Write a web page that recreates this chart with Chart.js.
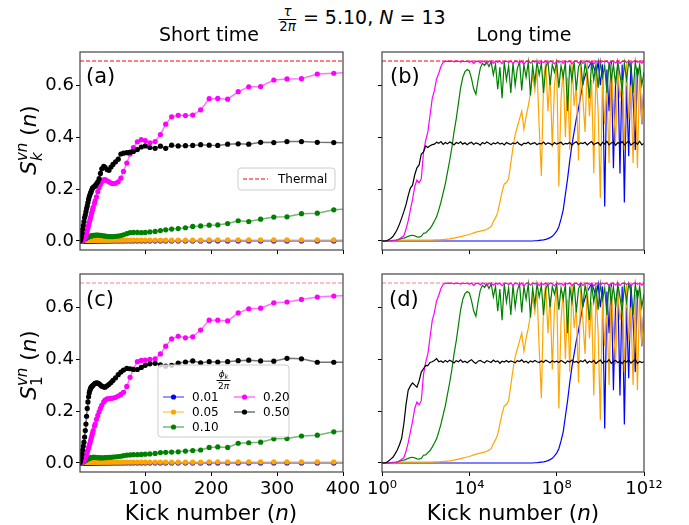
<!DOCTYPE html>
<html>
<head>
<meta charset="utf-8">
<script src="https://cdn.jsdelivr.net/npm/chart.js@4.4.1/dist/chart.umd.min.js"></script>
<style>
  body { margin: 0; background: #fff; }
  #fig { position: relative; width: 689px; height: 525px; overflow: hidden;
         font-family: "DejaVu Sans", sans-serif; color: #000; background: #fff; }
  #fig canvas { position: absolute; }
  .t { position: absolute; white-space: nowrap; line-height: 1; }
  .c { transform: translateX(-50%); }
  .ylab { transform: translate(-50%, -50%) rotate(-90deg); font-size: 21.5px; }
  .ss { display: inline-flex; flex-direction: column; font-size: 0.7em; line-height: 1; vertical-align: 0.6em; }
  .frac { display: inline-flex; flex-direction: column; align-items: center; font-size: 0.7em; line-height: 1.05; vertical-align: 0.6em; }
  .frac .den { border-top: 1px solid #000; padding: 0 1px; }
</style>
</head>
<body>
<div id="fig">
  <canvas id="chartA" width="331" height="214" style="left:20px; top:44px;"></canvas>
  <canvas id="chartB" width="292" height="214" style="left:362px; top:44px;"></canvas>
  <canvas id="chartC" width="343" height="238" style="left:20px; top:266px;"></canvas>
  <canvas id="chartD" width="308" height="238" style="left:362px; top:266px;"></canvas>

  <div class="t c" style="left:362px; top:5px; font-size:19px;"><span class="frac"><i>τ</i><span class="den">2<i>π</i></span></span> = 5.10, <i>N</i> = 13</div>
  <div class="t c" style="left:209px; top:25px; font-size:19px;">Short time</div>
  <div class="t c" style="left:524px; top:25px; font-size:19px;">Long time</div>

  <div class="t" style="left:86px; top:66px; font-size:21px;">(a)</div>
  <div class="t" style="left:390px; top:66px; font-size:21px;">(b)</div>
  <div class="t" style="left:86px; top:289px; font-size:21px;">(c)</div>
  <div class="t" style="left:389px; top:289px; font-size:21px;">(d)</div>

  <div class="t ylab" style="left:30px; top:140px;"><i>S</i><span class="ss"><i>vn</i><i>k</i></span> (<i>n</i>)</div>
  <div class="t ylab" style="left:30px; top:365px;"><i>S</i><span class="ss"><i>vn</i><span>1</span></span> (<i>n</i>)</div>

  <div class="t c" style="left:211px; top:502px; font-size:21.5px;">Kick number (<i>n</i>)</div>
  <div class="t c" style="left:513px; top:502px; font-size:21.5px;">Kick number (<i>n</i>)</div>
</div>

<script>
// ---------------- данные ----------------
const phiLabels = ["0.01", "0.05", "0.10", "0.20", "0.50"];
const phiColors = ["#0000ff", "#ffa500", "#008000", "#ff00ff", "#000000"];
const thermal = 0.6931;
const yTicks = [0.0, 0.2, 0.4, 0.6];
const shortTicks = [100, 200, 300, 400];
const longTicks = [1, 1e4, 1e8, 1e12];
const longTickLabels = ["10⁰", "10⁴", "10⁸", "10¹²"];

// short time: kick numbers of the marked points
const kicks = [
  1, 2, 3, 4, 5, 6, 7, 8, 9, 10,
  11, 12, 13, 14, 15, 16, 17, 18, 19, 20,
  21, 23, 24, 26, 28, 30, 32, 34, 37, 39,
  42, 45, 48, 51, 55, 59, 63, 67, 72, 77,
  82, 88, 94, 100, 107, 115, 123, 131, 140, 150,
  161, 172, 184, 197, 210, 225, 241, 257, 275, 295,
  315, 337, 361, 386, 413
];

const blueShort = [
  0, 0, 0, 0, 0, 0, 0, 0, 0, 0,
  0, 0, 0, 0, 0, 0, 0, 0, 0, 0,
  0, 0, 0, 0, 0, 0, 0, 0, 0, 0,
  0, 0, 0, 0, 0, 0, 0, 0, 0, 0,
  0, 0, 0, 0, 0, 0, 0, 0, 0, 0,
  0, 0, 0, 0, 0, 0, 0, 0, 0, 0,
  0, 0, 0, 0, 0
];
const orangeShort = [
  0, 0, 0.0005, 0.001, 0.0015, 0.002, 0.002, 0.0025, 0.003, 0.003,
  0.003, 0.003, 0.003, 0.003, 0.003, 0.003, 0.003, 0.003, 0.003, 0.003,
  0.003, 0.003, 0.003, 0.003, 0.003, 0.003, 0.003, 0.003, 0.003, 0.003,
  0.003, 0.003, 0.003, 0.003, 0.003, 0.003, 0.003, 0.003, 0.003, 0.003,
  0.003, 0.003, 0.003, 0.003, 0.003, 0.003, 0.003, 0.003, 0.003, 0.003,
  0.003, 0.003, 0.003, 0.004, 0.004, 0.004, 0.004, 0.004, 0.004, 0.004,
  0.004, 0.004, 0.004, 0.004, 0.004
];

// panel (a)
const greenA = [
  0, 0.0005, 0.001, 0.002, 0.003, 0.004, 0.006, 0.007, 0.009, 0.01,
  0.012, 0.013, 0.015, 0.016, 0.017, 0.018, 0.019, 0.02, 0.02, 0.021,
  0.022, 0.022, 0.022, 0.023, 0.023, 0.022, 0.022, 0.021, 0.02, 0.019,
  0.018, 0.017, 0.017, 0.017, 0.018, 0.019, 0.021, 0.024, 0.028, 0.032,
  0.033, 0.033, 0.032, 0.033, 0.035, 0.037, 0.04, 0.043, 0.046, 0.048,
  0.051, 0.056, 0.058, 0.061, 0.062, 0.067, 0.078, 0.075, 0.084, 0.092,
  0.093, 0.105, 0.107, 0.12, 0.124
];
const magentaA = [
  0, 0, 0.001, 0.002, 0.003, 0.005, 0.007, 0.01, 0.014, 0.02,
  0.03, 0.04, 0.05, 0.06, 0.07, 0.08, 0.09, 0.1, 0.11, 0.12,
  0.13, 0.145, 0.155, 0.17, 0.19, 0.205, 0.218, 0.228, 0.235, 0.236,
  0.232, 0.228, 0.223, 0.221, 0.222, 0.228, 0.242, 0.268, 0.3, 0.335,
  0.36, 0.382, 0.39, 0.387, 0.378, 0.383, 0.41, 0.45, 0.478, 0.484,
  0.483, 0.485, 0.505, 0.548, 0.549, 0.546, 0.575, 0.594, 0.595, 0.62,
  0.624, 0.625, 0.643, 0.646, 0.65
];
const blackA = [
  0, 0.005, 0.015, 0.03, 0.045, 0.06, 0.075, 0.09, 0.1, 0.113,
  0.125, 0.135, 0.148, 0.16, 0.17, 0.178, 0.185, 0.19, 0.198, 0.204,
  0.207, 0.21, 0.213, 0.22, 0.228, 0.24, 0.26, 0.278, 0.287, 0.284,
  0.275, 0.272, 0.285, 0.295, 0.305, 0.315, 0.335, 0.338, 0.34, 0.342,
  0.345, 0.352, 0.362, 0.366, 0.36, 0.357, 0.365, 0.357, 0.369, 0.366,
  0.367, 0.368, 0.371, 0.369, 0.368, 0.373, 0.374, 0.373, 0.38, 0.379,
  0.383, 0.383, 0.38, 0.379, 0.378
];

// panel (c)
const greenC = [
  0, 0, 0.001, 0.002, 0.003, 0.005, 0.006, 0.008, 0.01, 0.011,
  0.013, 0.014, 0.016, 0.017, 0.018, 0.019, 0.02, 0.021, 0.021, 0.022,
  0.022, 0.022, 0.022, 0.021, 0.021, 0.02, 0.02, 0.02, 0.02, 0.021,
  0.021, 0.022, 0.022, 0.023, 0.024, 0.025, 0.026, 0.028, 0.03, 0.031,
  0.032, 0.032, 0.033, 0.034, 0.035, 0.037, 0.04, 0.041, 0.042, 0.043,
  0.046, 0.048, 0.05, 0.06, 0.062, 0.06, 0.076, 0.078, 0.08, 0.093,
  0.094, 0.104, 0.107, 0.12, 0.125
];
const magentaC = [
  0, 0, 0.001, 0.002, 0.004, 0.007, 0.01, 0.014, 0.019, 0.025,
  0.033, 0.042, 0.05, 0.058, 0.066, 0.076, 0.086, 0.096, 0.105, 0.115,
  0.125, 0.142, 0.15, 0.168, 0.183, 0.197, 0.21, 0.222, 0.235, 0.242,
  0.247, 0.248, 0.249, 0.25, 0.253, 0.258, 0.264, 0.272, 0.295, 0.33,
  0.362, 0.39, 0.395, 0.396, 0.399, 0.401, 0.42, 0.45, 0.478, 0.488,
  0.482, 0.486, 0.512, 0.55, 0.55, 0.547, 0.578, 0.594, 0.596, 0.617,
  0.62, 0.63, 0.639, 0.643, 0.645
];
const blackC = [
  0, 0.01, 0.02, 0.035, 0.05, 0.065, 0.08, 0.1, 0.125, 0.15,
  0.18, 0.21, 0.235, 0.255, 0.27, 0.28, 0.287, 0.292, 0.295, 0.297,
  0.3, 0.305, 0.307, 0.309, 0.308, 0.305, 0.3, 0.296, 0.293, 0.292,
  0.297, 0.303, 0.31, 0.318, 0.328, 0.34, 0.35, 0.358, 0.364, 0.363,
  0.36, 0.36, 0.368, 0.376, 0.382, 0.384, 0.378, 0.373, 0.376, 0.385,
  0.389, 0.393, 0.386, 0.39, 0.389, 0.39, 0.394, 0.396, 0.393, 0.392,
  0.403, 0.401, 0.388, 0.388, 0.388
];

// long time: log10 of the kick number
const longExp = [
  0.0, 0.1, 0.2, 0.3, 0.4, 0.5, 0.6, 0.7, 0.8, 0.9,
  1.0, 1.1, 1.2, 1.3, 1.4, 1.5, 1.6, 1.7, 1.8, 1.9,
  2.0, 2.1, 2.2, 2.3, 2.4, 2.5, 2.6, 2.7, 2.8, 2.9,
  3.0, 3.1, 3.2, 3.3, 3.4, 3.5, 3.6, 3.7, 3.8, 3.9,
  4.0, 4.1, 4.2, 4.3, 4.4, 4.5, 4.6, 4.7, 4.8, 4.9,
  5.0, 5.1, 5.2, 5.3, 5.4, 5.5, 5.6, 5.7, 5.8, 5.9,
  6.0, 6.1, 6.2, 6.3, 6.4, 6.5, 6.6, 6.7, 6.8, 6.9,
  7.0, 7.1, 7.2, 7.3, 7.4, 7.5, 7.6, 7.7, 7.8, 7.9,
  8.0, 8.1, 8.2, 8.3, 8.4, 8.5, 8.6, 8.7, 8.8, 8.9,
  9.0, 9.1, 9.2, 9.3, 9.4, 9.5, 9.6, 9.7, 9.8, 9.9,
  10.0, 10.1, 10.2, 10.3, 10.4, 10.5, 10.6, 10.7, 10.8, 10.9,
  11.0, 11.1, 11.2, 11.3, 11.4, 11.5, 11.6, 11.7, 11.8, 11.9,
  12.0
];

const blueLong = [
  0, 0, 0, 0, 0, 0, 0, 0, 0, 0,
  0, 0, 0, 0, 0, 0, 0, 0, 0, 0,
  0, 0, 0, 0, 0, 0, 0, 0, 0, 0,
  0, 0, 0, 0, 0, 0, 0, 0, 0, 0,
  0, 0, 0, 0, 0, 0, 0, 0, 0, 0,
  0, 0, 0, 0, 0, 0, 0, 0, 0, 0,
  0, 0, 0, 0, 0, 0, 0, 0, 0, 0,
  0.001, 0.001, 0.002, 0.003, 0.004, 0.006, 0.009, 0.013, 0.018, 0.027,
  0.038, 0.055, 0.085, 0.12, 0.18, 0.24, 0.31, 0.37, 0.42, 0.47,
  0.51, 0.56, 0.605, 0.635, 0.66, 0.675, 0.69, 0.67, 0.64, 0.69,
  0.6, 0.68, 0.133, 0.66, 0.5, 0.69, 0.28, 0.62, 0.67, 0.26,
  0.68, 0.148, 0.6, 0.326, 0.69, 0.55, 0.35, 0.66, 0.64, 0.45,
  0.6
];
const orangeLong = [
  0, 0, 0, 0, 0, 0.001, 0.001, 0.002, 0.002, 0.003,
  0.003, 0.003, 0.003, 0.003, 0.003, 0.003, 0.003, 0.003, 0.003, 0.003,
  0.003, 0.003, 0.003, 0.003, 0.004, 0.004, 0.004, 0.005, 0.005, 0.006,
  0.007, 0.008, 0.01, 0.011, 0.013, 0.015, 0.017, 0.019, 0.021, 0.023,
  0.025, 0.028, 0.031, 0.034, 0.036, 0.038, 0.04, 0.042, 0.045, 0.05,
  0.055, 0.075, 0.09, 0.11, 0.15, 0.19, 0.22, 0.225, 0.24, 0.3,
  0.36, 0.41, 0.44, 0.47, 0.5, 0.43, 0.48, 0.52, 0.57, 0.64,
  0.58, 0.66, 0.44, 0.25, 0.62, 0.69, 0.5, 0.64, 0.36, 0.6,
  0.68, 0.21, 0.55, 0.66, 0.4, 0.63, 0.35, 0.69, 0.52, 0.6,
  0.31, 0.67, 0.55, 0.42, 0.69, 0.48, 0.62, 0.26, 0.66, 0.5,
  0.165, 0.64, 0.45, 0.6, 0.3, 0.68, 0.52, 0.38, 0.66, 0.55,
  0.62, 0.35, 0.69, 0.47, 0.6, 0.3, 0.65, 0.28, 0.68, 0.45,
  0.6
];
const greenLong = [
  0, 0, 0, 0, 0.001, 0.002, 0.002, 0.004, 0.006, 0.01,
  0.011, 0.014, 0.018, 0.021, 0.022, 0.02, 0.016, 0.015, 0.018, 0.03,
  0.031, 0.04, 0.048, 0.061, 0.077, 0.093, 0.12, 0.15, 0.185, 0.22,
  0.265, 0.31, 0.36, 0.42, 0.47, 0.53, 0.59, 0.63, 0.652, 0.66,
  0.655, 0.625, 0.585, 0.565, 0.62, 0.665, 0.684, 0.676, 0.69, 0.672,
  0.69, 0.64, 0.68, 0.585, 0.67, 0.55, 0.69, 0.62, 0.675, 0.57,
  0.686, 0.6, 0.665, 0.69, 0.58, 0.68, 0.63, 0.69, 0.56, 0.675,
  0.61, 0.69, 0.64, 0.685, 0.57, 0.67, 0.69, 0.6, 0.68, 0.65,
  0.69, 0.59, 0.675, 0.63, 0.69, 0.5, 0.68, 0.62, 0.69, 0.58,
  0.67, 0.69, 0.6, 0.685, 0.64, 0.55, 0.69, 0.62, 0.68, 0.59,
  0.69, 0.63, 0.675, 0.57, 0.69, 0.62, 0.68, 0.6, 0.69, 0.64,
  0.58, 0.685, 0.62, 0.69, 0.66, 0.57, 0.69, 0.63, 0.68, 0.6,
  0.65
];
const magentaLong = [
  0, 0, 0, 0, 0.001, 0.001, 0.002, 0.004, 0.008, 0.014,
  0.02, 0.045, 0.078, 0.12, 0.16, 0.21, 0.235, 0.224, 0.24, 0.34,
  0.387, 0.42, 0.484, 0.548, 0.58, 0.624, 0.646, 0.672, 0.688, 0.692,
  0.693, 0.692, 0.693, 0.69, 0.693, 0.692, 0.689, 0.693, 0.691, 0.693,
  0.688, 0.693, 0.684, 0.692, 0.693, 0.686, 0.693, 0.69, 0.682, 0.693,
  0.691, 0.685, 0.693, 0.688, 0.693, 0.683, 0.692, 0.693, 0.687, 0.693,
  0.684, 0.693, 0.69, 0.686, 0.693, 0.681, 0.692, 0.693, 0.685, 0.693,
  0.689, 0.693, 0.683, 0.692, 0.687, 0.693, 0.685, 0.693, 0.69, 0.682,
  0.693, 0.688, 0.692, 0.684, 0.693, 0.689, 0.693, 0.683, 0.692, 0.693,
  0.686, 0.693, 0.684, 0.692, 0.693, 0.687, 0.693, 0.682, 0.691, 0.693,
  0.685, 0.693, 0.689, 0.693, 0.683, 0.692, 0.693, 0.686, 0.693, 0.684,
  0.692, 0.693, 0.687, 0.693, 0.682, 0.692, 0.693, 0.688, 0.693, 0.685,
  0.692
];
const blackLongB = [
  0, 0, 0.001, 0.005, 0.01, 0.017, 0.03, 0.045, 0.065, 0.088,
  0.113, 0.14, 0.175, 0.204, 0.215, 0.255, 0.282, 0.293, 0.335, 0.343,
  0.366, 0.36, 0.367, 0.371, 0.373, 0.38, 0.376, 0.383, 0.372, 0.379,
  0.374, 0.381, 0.377, 0.37, 0.379, 0.375, 0.382, 0.373, 0.378, 0.371,
  0.377, 0.38, 0.372, 0.378, 0.375, 0.369, 0.379, 0.374, 0.381, 0.376,
  0.371, 0.378, 0.374, 0.38, 0.373, 0.377, 0.37, 0.379, 0.375, 0.372,
  0.378, 0.374, 0.381, 0.373, 0.369, 0.377, 0.375, 0.38, 0.372, 0.376,
  0.379, 0.371, 0.376, 0.374, 0.381, 0.372, 0.378, 0.375, 0.37, 0.379,
  0.373, 0.377, 0.38, 0.371, 0.376, 0.374, 0.379, 0.369, 0.377, 0.382,
  0.372, 0.378, 0.375, 0.38, 0.37, 0.377, 0.383, 0.371, 0.376, 0.379,
  0.368, 0.38, 0.373, 0.384, 0.37, 0.377, 0.382, 0.369, 0.379, 0.374,
  0.383, 0.37, 0.378, 0.385, 0.369, 0.376, 0.381, 0.372, 0.384, 0.37,
  0.376
];
const blackLongD = [
  0, 0, 0.002, 0.008, 0.015, 0.022, 0.035, 0.05, 0.07, 0.095,
  0.15, 0.225, 0.28, 0.297, 0.308, 0.3, 0.292, 0.316, 0.35, 0.363,
  0.376, 0.375, 0.387, 0.39, 0.395, 0.402, 0.39, 0.393, 0.387, 0.395,
  0.389, 0.396, 0.391, 0.385, 0.394, 0.39, 0.397, 0.388, 0.392, 0.386,
  0.393, 0.398, 0.389, 0.383, 0.392, 0.395, 0.39, 0.386, 0.394, 0.391,
  0.387, 0.396, 0.39, 0.393, 0.384, 0.392, 0.389, 0.395, 0.388, 0.393,
  0.39, 0.386, 0.394, 0.391, 0.397, 0.388, 0.392, 0.385, 0.393, 0.389,
  0.395, 0.39, 0.387, 0.393, 0.388, 0.396, 0.391, 0.386, 0.394, 0.389,
  0.392, 0.387, 0.395, 0.39, 0.384, 0.393, 0.389, 0.396, 0.388, 0.391,
  0.386, 0.394, 0.39, 0.397, 0.385, 0.392, 0.388, 0.395, 0.383, 0.391,
  0.396, 0.385, 0.392, 0.389, 0.398, 0.384, 0.391, 0.395, 0.386, 0.393,
  0.383, 0.394, 0.389, 0.397, 0.385, 0.392, 0.399, 0.384, 0.391, 0.387,
  0.39
];

// массивдердин узундугун текшерүү
[blueShort, orangeShort, greenA, magentaA, blackA, greenC, magentaC, blackC].forEach((a, i) => {
  if (a.length !== kicks.length) throw new Error("short array " + i + " has " + a.length);
});
[blueLong, orangeLong, greenLong, magentaLong, blackLongB, blackLongD].forEach((a, i) => {
  if (a.length !== longExp.length) throw new Error("long array " + i + " has " + a.length);
});

// ---------------- helpers ----------------
const yRange = { min: -0.0347, max: 0.7278 };
const tickFont = { family: "DejaVu Sans", size: 18 };

function withAlpha(hex, a) {
  const n = parseInt(hex.slice(1), 16);
  return `rgba(${n >> 16},${(n >> 8) & 255},${n & 255},${a})`;
}

function thermalSet(xMin, xMax, alpha) {
  return {
    label: "Thermal",
    data: [{ x: xMin, y: thermal }, { x: xMax, y: thermal }],
    borderColor: withAlpha("#ff0000", alpha),
    borderDash: [4, 2],
    borderWidth: 1,
    pointRadius: 0,
    order: 0,
  };
}

function shortSets(series) {
  return series.map((vals, i) => ({
    label: phiLabels[i],
    data: kicks.map((k, j) => ({ x: k, y: vals[j] })),
    borderColor: withAlpha(phiColors[i], 0.55),
    borderWidth: 1.5,
    pointRadius: 2.6,
    pointBorderWidth: 0,
    pointBackgroundColor: phiColors[i],
    pointBorderColor: phiColors[i],
    order: 5 - i,
  }));
}

function longSets(series) {
  return series.map((vals, i) => ({
    label: phiLabels[i],
    data: longExp.map((e, j) => ({ x: Math.pow(10, e), y: vals[j] })),
    borderColor: phiColors[i],
    borderWidth: 1.2,
    pointRadius: 0,
    order: 5 - i,
  }));
}

const tickGrid = { drawOnChartArea: false, drawTicks: true, tickLength: 4, tickColor: "#000", tickWidth: 1 };

function yScale(showLabels, axisWidth) {
  return {
    type: "linear",
    min: yRange.min,
    max: yRange.max,
    afterBuildTicks: s => { s.ticks = yTicks.map(v => ({ value: v })); },
    afterFit: s => { s.width = axisWidth; s.paddingTop = 0; s.paddingBottom = 0; },
    ticks: { display: showLabels, callback: v => Number(v).toFixed(1), color: "#000", font: tickFont, padding: 2 },
    grid: tickGrid,
    border: { display: false },
  };
}

function xScale(kind, showLabels, axisHeight) {
  const isLog = kind === "log";
  const ticks = isLog ? longTicks : shortTicks;
  return {
    type: isLog ? "logarithmic" : "linear",
    min: 1,
    max: isLog ? 1e12 : 400,
    afterBuildTicks: s => { s.ticks = ticks.map(v => ({ value: v })); },
    afterFit: s => { s.height = axisHeight; s.paddingLeft = 0; s.paddingRight = 0; },
    ticks: {
      display: showLabels,
      autoSkip: false,
      maxRotation: 0,
      color: "#000",
      font: tickFont,
      padding: 3,
      callback: v => isLog ? longTickLabels[longTicks.indexOf(v)] : String(v),
    },
    grid: tickGrid,
    border: { display: false },
  };
}

// рамка (4 spine)
const framePlugin = {
  id: "frame",
  afterDatasetsDraw(chart) {
    const { ctx, chartArea: a } = chart;
    ctx.save();
    ctx.strokeStyle = "#444";
    ctx.lineWidth = 1.2;
    ctx.strokeRect(a.left, a.top, a.right - a.left, a.bottom - a.top);
    ctx.restore();
  },
};

// легенда ичинде (matplotlib сыяктуу)
const legendPlugin = {
  id: "panelLegend",
  afterDatasetsDraw(chart, args, opts) {
    if (!opts.box) return;
    const ctx = chart.ctx;
    const ox = chart.canvas.offsetLeft, oy = chart.canvas.offsetTop;
    const [bx, by, bw, bh] = opts.box;
    ctx.save();
    ctx.translate(-ox, -oy);
    ctx.beginPath();
    ctx.roundRect(bx, by, bw, bh, 3);
    ctx.fillStyle = "rgba(255,255,255,0.8)";
    ctx.fill();
    ctx.strokeStyle = "#cccccc";
    ctx.lineWidth = 1;
    ctx.stroke();

    if (opts.fracTitle) {
      const { x, y } = opts.fracTitle;
      ctx.fillStyle = "#000";
      ctx.textBaseline = "alphabetic";
      ctx.textAlign = "left";
      ctx.font = "italic 9px 'DejaVu Sans'";
      const wPhi = ctx.measureText("ϕ").width;
      ctx.font = "italic 6.5px 'DejaVu Sans'";
      const wK = ctx.measureText("k").width;
      const nx = x - (wPhi + wK) / 2;
      ctx.font = "italic 9px 'DejaVu Sans'";
      ctx.fillText("ϕ", nx, y - 3.5);
      ctx.font = "italic 6.5px 'DejaVu Sans'";
      ctx.fillText("k", nx + wPhi, y - 2);
      ctx.fillRect(x - 7, y - 0.5, 14, 1);
      ctx.font = "9px 'DejaVu Sans'";
      const w2 = ctx.measureText("2").width;
      ctx.font = "italic 9px 'DejaVu Sans'";
      const wPi = ctx.measureText("π").width;
      const dx = x - (w2 + wPi) / 2;
      ctx.font = "9px 'DejaVu Sans'";
      ctx.fillText("2", dx, y + 8);
      ctx.font = "italic 9px 'DejaVu Sans'";
      ctx.fillText("π", dx + w2, y + 8);
    }

    ctx.font = "12px 'DejaVu Sans'";
    ctx.textBaseline = "middle";
    ctx.textAlign = "left";
    for (const it of opts.items) {
      const ds = chart.data.datasets.find(d => d.label === it.label);
      ctx.save();
      ctx.strokeStyle = ds.borderColor;
      ctx.lineWidth = ds.borderWidth;
      ctx.setLineDash(ds.borderDash || []);
      ctx.beginPath();
      ctx.moveTo(it.x, it.y);
      ctx.lineTo(it.x + it.len, it.y);
      ctx.stroke();
      ctx.restore();
      if (ds.pointRadius) {
        ctx.fillStyle = ds.pointBackgroundColor;
        ctx.beginPath();
        ctx.arc(it.x + it.len / 2, it.y, ds.pointRadius, 0, 2 * Math.PI);
        ctx.fill();
      }
      ctx.fillStyle = "#000";
      ctx.fillText(ds.label, it.x + it.len + it.gap, it.y + 0.5);
    }
    ctx.restore();
  },
};

function makePanel(id, cfg) {
  return new Chart(document.getElementById(id), {
    type: "line",
    data: { datasets: cfg.datasets },
    options: {
      responsive: false,
      animation: false,
      devicePixelRatio: 1,
      layout: { padding: cfg.padding },
      elements: { line: { tension: 0 } },
      scales: { x: cfg.x, y: cfg.y },
      plugins: {
        legend: { display: false },
        tooltip: { enabled: false },
        panelLegend: cfg.legend || {},
      },
    },
    plugins: [framePlugin, legendPlugin],
  });
}

// ---------------- панелдер ----------------
makePanel("chartA", {
  datasets: [thermalSet(1, 400, 1)].concat(shortSets([blueShort, orangeShort, greenA, magentaA, blackA])),
  padding: { left: 0, top: 8, right: 8, bottom: 0 },
  x: xScale("lin", false, 8),
  y: yScale(true, 60),
  legend: {
    box: [238, 168, 97, 22],
    items: [{ label: "Thermal", x: 243, y: 179, len: 25, gap: 10 }],
  },
});

makePanel("chartB", {
  datasets: [thermalSet(1, 1e12, 1)].concat(longSets([blueLong, orangeLong, greenLong, magentaLong, blackLongB])),
  padding: { left: 0, top: 8, right: 10, bottom: 0 },
  x: xScale("log", false, 8),
  y: yScale(false, 20),
});

makePanel("chartC", {
  datasets: [thermalSet(1, 400, 0.5)].concat(shortSets([blueShort, orangeShort, greenC, magentaC, blackC])),
  padding: { left: 0, top: 8, right: 20, bottom: 0 },
  x: xScale("lin", true, 32),
  y: yScale(true, 60),
  legend: {
    box: [158, 365, 131, 72],
    fracTitle: { x: 223.5, y: 380.5 },
    items: [
      { label: "0.01", x: 163, y: 397, len: 21, gap: 8 },
      { label: "0.05", x: 163, y: 412, len: 21, gap: 8 },
      { label: "0.10", x: 163, y: 427, len: 21, gap: 8 },
      { label: "0.20", x: 234, y: 397, len: 21, gap: 8 },
      { label: "0.50", x: 234, y: 412, len: 21, gap: 8 },
    ],
  },
});

makePanel("chartD", {
  datasets: [thermalSet(1, 1e12, 0.5)].concat(longSets([blueLong, orangeLong, greenLong, magentaLong, blackLongD])),
  padding: { left: 0, top: 8, right: 26, bottom: 0 },
  x: xScale("log", true, 32),
  y: yScale(false, 20),
});
</script>
</body>
</html>
